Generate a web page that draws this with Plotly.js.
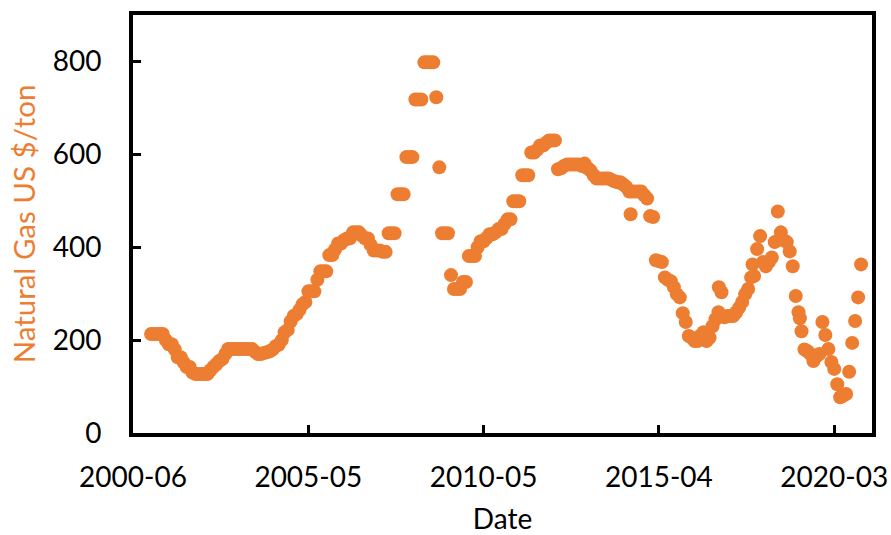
<!DOCTYPE html>
<html>
<head>
<meta charset="utf-8">
<script src="https://cdn.plot.ly/plotly-3.0.1.min.js"></script>
<style>html,body{margin:0;padding:0;background:#fff;}#chart{width:891px;height:535px;}</style>
</head>
<body>
<div id="chart"></div>
<script>
// Monthly observations, January 2001 – December 2020 (US $/ton)
const years = [2001,2002,2003,2004,2005,2006,2007,2008,2009,2010,2011,2012,2013,2014,2015,2016,2017,2018,2019,2020];
const price = [
  213,213,213,213,213,200,191,191,180,163,163,152, // 2001
  142,142,130,127,127,127,127,127,135,142,148,155, // 2002
  159,170,181,181,181,181,181,181,181,181,181,175, // 2003
  170,170,172,174,176,180,187,190,200,217,222,240, // 2004
  252,256,265,277,282,305,305,305,330,348,348,348, // 2005
  383,383,395,408,408,415,419,419,432,432,432,425, // 2006
  419,419,405,393,393,393,390,390,430,430,430,514, // 2007
  514,514,594,594,594,718,718,718,798,798,798,798, // 2008
  723,572,430,430,430,340,310,310,310,325,325,381, // 2009
  381,381,400,413,413,420,428,428,432,439,439,450, // 2010
  460,460,499,499,499,555,555,555,604,604,610,619, // 2011
  619,625,630,630,630,568,570,575,578,578,578,578, // 2012
  578,575,580,570,565,555,548,548,548,548,548,545, // 2013
  542,540,540,535,530,520,520,520,520,520,512,505, // 2014
  467,465,372,370,368,335,330,327,314,299,292,258, // 2015
  239,209,205,198,198,210,217,198,205,230,245,260, // 2016
  303,249,252,252,252,260,270,282,299,310,335,338, // 2017
  396,424,368,359,368,378,411,477,432,415,411,391, // 2018
  359,295,260,219,180,176,170,155,165,170,239,211, // 2019
  181,153,138,105,77,80,84,132,194,241,292,363     // 2020
];
// additional observations falling between the monthly ones
const extraDates = ['2014-06-15','2016-12-05','2017-11-15','2019-03-15'];
const extraPrice = [471,314,363,247];

const tickDates = ['2000-06-30','2005-05-31','2010-05-01','2015-04-01','2020-03-01'];
const tickLabels = ['2000-06','2005-05','2010-05','2015-04','2020-03'];
const yTicks = [0,200,400,600,800];

const dates = [];
years.forEach(y => { for (let m = 1; m <= 12; m++) dates.push(y + '-' + String(m).padStart(2,'0') + '-01'); });

const allX = dates.concat(extraDates);
const allY = price.concat(extraPrice);

const orange = '#ED7D31';
const font = 'Lato, "Open Sans", sans-serif';

Plotly.newPlot('chart', [{
  type: 'scatter', mode: 'markers',
  x: allX, y: allY,
  marker: {color: orange, size: 14, line: {width: 0}},
  hoverinfo: 'x+y'
}], {
  width: 891, height: 535,
  margin: {l: 133, r: 19, t: 15, b: 102},
  paper_bgcolor: '#fff', plot_bgcolor: '#fff',
  showlegend: false,
  font: {family: font, size: 28, color: '#000'},
  xaxis: {
    type: 'date',
    range: ['2000-06-30','2021-03-23'],
    tickvals: tickDates, ticktext: tickLabels,
    ticks: 'inside', ticklen: 8, tickwidth: 3, tickcolor: '#000',
    showline: true, linewidth: 4, linecolor: '#000', mirror: true,
    showgrid: false, zeroline: false,
    ticklabelstandoff: 16,
    tickfont: {family: font, size: 28, color: '#000'},
    title: {text: 'Date', font: {family: font, size: 28, color: '#000'}, standoff: 22}
  },
  yaxis: {
    range: [0, 900],
    tickvals: yTicks,
    ticks: 'inside', ticklen: 8, tickwidth: 3, tickcolor: '#000',
    showline: true, linewidth: 4, linecolor: '#000', mirror: true,
    showgrid: false, zeroline: false,
    ticklabelstandoff: 22,
    tickfont: {family: font, size: 28, color: '#000'},
    title: {text: 'Natural Gas US $/ton', font: {family: font, size: 29.5, color: orange}, standoff: 9}
  }
}, {displayModeBar: false, staticPlot: true});
</script>
</body>
</html>
